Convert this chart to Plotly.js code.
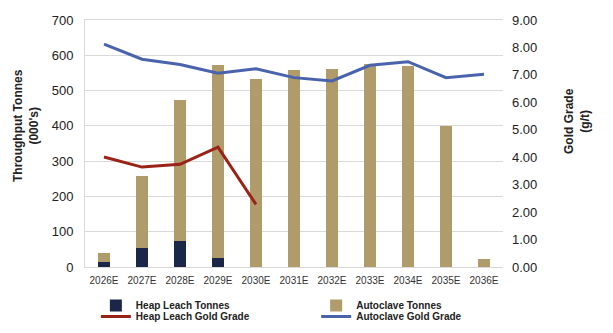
<!DOCTYPE html>
<html>
<head>
<meta charset="utf-8">
<script src="https://cdn.plot.ly/plotly-3.0.1.min.js"></script>
<style>html,body{margin:0;padding:0;background:#fff;}#chart{width:613px;height:333px;}</style>
</head>
<body>
<div id="chart"></div>
<script>
const years = ["2026E","2027E","2028E","2029E","2030E","2031E","2032E","2033E","2034E","2035E","2036E"];
const heapLeachTonnes = [14, 55, 74, 25, 0, 0, 0, 0, 0, 0, 0];
const autoclaveTonnes = [26, 203, 400, 548, 533, 559, 561, 574, 570, 400, 23];
const heapLeachGrade = [4.01, 3.64, 3.74, 4.37, 2.28, null, null, null, null, null, null];
const autoclaveGrade = [8.12, 7.57, 7.38, 7.06, 7.22, 6.90, 6.78, 7.35, 7.48, 6.90, 7.02];
const leftTitle = "<b>Throughput Tonnes</b><br><b>(000's)</b>";
const rightTitle = "<b>Gold Grade</b><br><b>(g/t)</b>";

const FONT = "Liberation Sans, Arial, sans-serif";
const data = [
  {type:"bar", name:"Heap Leach Tonnes", x:years, y:heapLeachTonnes, marker:{color:"#1c2648"}, yaxis:"y", legend:"legend"},
  {type:"bar", name:"Autoclave Tonnes", x:years, y:autoclaveTonnes, marker:{color:"#b09b6a"}, yaxis:"y", legend:"legend2"},
  {type:"scatter", mode:"lines", name:"Heap Leach Gold Grade", x:years, y:heapLeachGrade, line:{color:"#9b2217", width:3}, yaxis:"y2", legend:"legend3"},
  {type:"scatter", mode:"lines", name:"Autoclave Gold Grade", x:years, y:autoclaveGrade, line:{color:"#4a63ad", width:3}, yaxis:"y2", legend:"legend4"}
];
const legendCommon = {orientation:"v", traceorder:"normal",
  xanchor:"left", yanchor:"top", bgcolor:"rgba(0,0,0,0)",
  font:{size:10, weight:"bold", color:"#222"}, tracegroupgap:0};
const layout = {
  width:613, height:333,
  margin:{l:85, r:110, t:20, b:66, autoexpand:false},
  paper_bgcolor:"#fff", plot_bgcolor:"#fff",
  font:{family:FONT, color:"#222"},
  barmode:"stack", bargap:0.69,
  showlegend:true,
  legend:Object.assign({}, legendCommon, {x:0.026, y:-0.097}),
  legend2:Object.assign({}, legendCommon, {x:0.553, y:-0.097}),
  legend3:Object.assign({}, legendCommon, {x:0.026, y:-0.142}),
  legend4:Object.assign({}, legendCommon, {x:0.553, y:-0.142}),
  xaxis:{type:"category", tickfont:{size:10, color:"#333"}, showline:true, linecolor:"#d9d9d9", mirror:true,
         ticks:"", showgrid:false, ticklabelstandoff:4},
  yaxis:{range:[0,700], dtick:100, tickfont:{size:13, color:"#222"}, showgrid:true, gridcolor:"#d9d9d9",
         showline:true, linecolor:"#d9d9d9", zeroline:false, ticks:"", ticklabelstandoff:8},
  yaxis2:{range:[0,9], dtick:1, tickformat:".2f", overlaying:"y", side:"right", showgrid:false, zeroline:false,
          tickfont:{size:13, color:"#222"}, ticks:"", ticklabelstandoff:8, showline:false},
  annotations:[
    {text:leftTitle, xref:"paper", yref:"paper", x:-0.141, y:0.571, xanchor:"center", yanchor:"middle",
     textangle:-90, showarrow:false, font:{size:12, color:"#222"}},
    {text:rightTitle, xref:"paper", yref:"paper", x:1.177, y:0.591, xanchor:"center", yanchor:"middle",
     textangle:-90, showarrow:false, font:{size:12, color:"#222"}}
  ]
};
Plotly.newPlot("chart", data, layout, {displayModeBar:false, staticPlot:true});
</script>
</body>
</html>
